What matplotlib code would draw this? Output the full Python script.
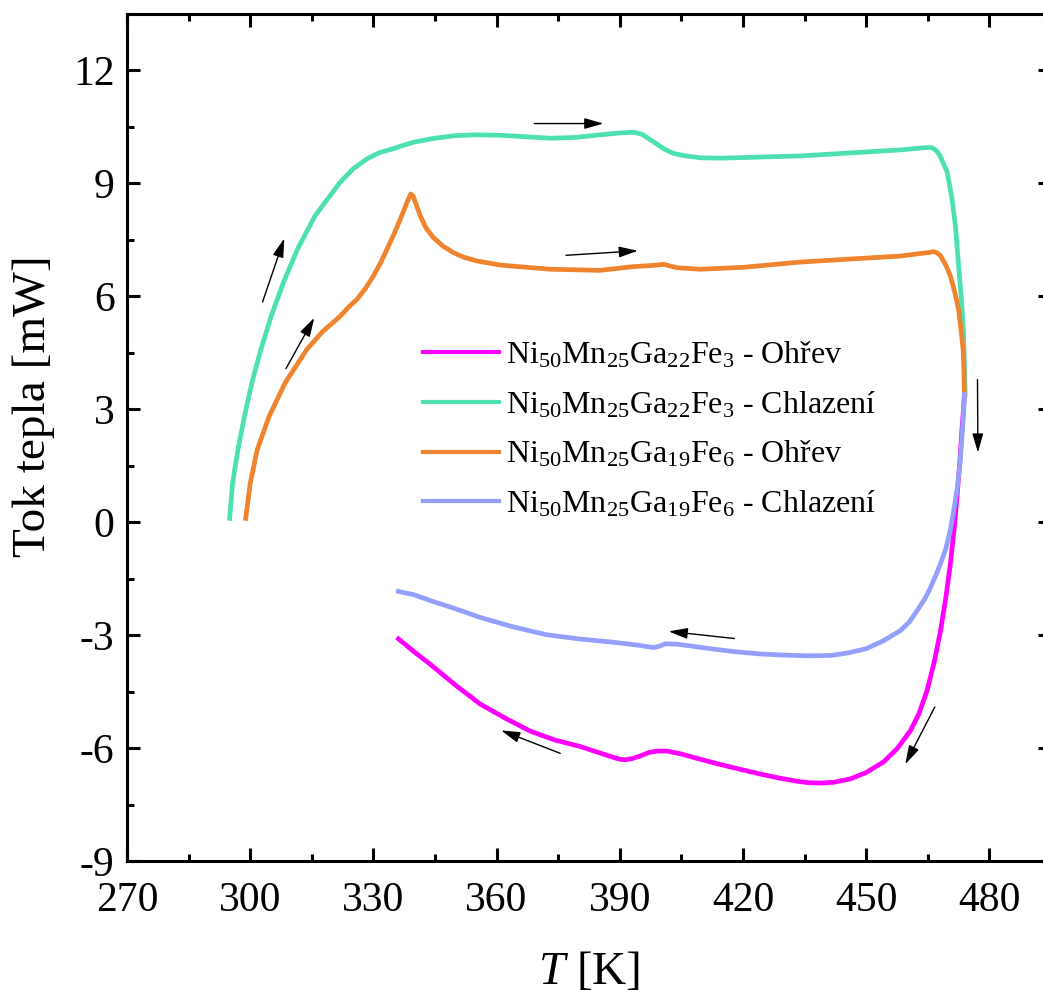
import numpy as np
import matplotlib
matplotlib.use("Agg")
from matplotlib import pyplot as plt
from matplotlib.ticker import MultipleLocator

plt.rcParams['font.family'] = ['Liberation Serif', 'DejaVu Serif']
plt.rcParams['mathtext.fontset'] = 'custom'
plt.rcParams['mathtext.rm'] = 'Liberation Serif'
plt.rcParams['mathtext.it'] = 'Liberation Serif:italic'
plt.rcParams['axes.unicode_minus'] = False

# DSC krivky: teplota [K] a tok tepla [mW]
T_fe3_ohrev = [336.1, 340.0, 343.8, 350.0, 356.0, 362.0, 368.2, 374.0, 380.4, 386.0,
               388.5, 390.1, 391.5, 393.0, 395.0, 397.0, 399.0, 401.5, 404.7, 408.0,
               412.8, 418.0, 424.2, 429.0, 433.0, 436.0, 438.8, 442.0, 446.1, 450.0,
               454.2, 457.5, 460.7, 462.8, 464.8, 466.6, 468.1, 469.4, 470.5, 471.4,
               472.1, 472.8, 473.3, 473.7, 473.9]
Q_fe3_ohrev = [-3.10, -3.45, -3.77, -4.33, -4.83, -5.20, -5.55, -5.78, -5.96, -6.16,
               -6.25, -6.30, -6.31, -6.28, -6.21, -6.12, -6.08, -6.08, -6.15, -6.25,
               -6.39, -6.53, -6.69, -6.80, -6.88, -6.92, -6.93, -6.91, -6.82, -6.65,
               -6.37, -6.02, -5.55, -5.10, -4.48, -3.70, -2.88, -2.00, -1.10, -0.20,
               0.67, 1.60, 2.45, 3.00, 3.39]

T_fe3_chlaz = [295.0, 295.7, 297.0, 298.6, 300.4, 302.6, 305.1, 308.1, 311.5, 315.8,
               321.9, 325.0, 328.4, 331.5, 334.8, 337.5, 340.0, 345.0, 350.0, 355.0,
               360.9, 367.0, 373.0, 379.0, 385.2, 390.0, 393.3, 395.5, 398.0, 400.7,
               403.0, 405.5, 409.6, 414.5, 424.2, 434.0, 446.1, 458.3, 464.4, 466.0,
               467.2, 468.0, 469.7, 470.9, 471.8, 472.5, 473.2, 473.7, 474.1]
Q_fe3_chlaz = [0.10, 1.03, 1.92, 2.81, 3.70, 4.59, 5.47, 6.37, 7.25, 8.14,
               9.03, 9.38, 9.65, 9.82, 9.92, 10.02, 10.10, 10.20, 10.27, 10.29,
               10.28, 10.24, 10.20, 10.22, 10.29, 10.34, 10.36, 10.30, 10.12, 9.92,
               9.80, 9.74, 9.68, 9.67, 9.70, 9.73, 9.81, 9.89, 9.95, 9.95,
               9.86, 9.73, 9.31, 8.59, 7.80, 6.81, 5.90, 5.03, 3.39]

T_fe6_ohrev = [298.9, 300.0, 301.7, 304.6, 308.5, 313.8, 317.5, 321.9, 324.0, 326.0,
               328.0, 330.0, 331.7, 333.3, 335.2, 336.9, 338.2, 339.1, 339.7, 340.2,
               341.4, 342.8, 344.6, 347.0, 349.5, 352.0, 355.2, 360.9, 373.0, 385.2,
               393.3, 398.0, 400.7, 403.9, 409.6, 420.0, 434.0, 446.0, 458.3, 465.6,
               466.4, 467.3, 468.0, 469.3, 470.5, 471.6, 472.5, 473.1, 473.6, 473.8,
               473.9]
Q_fe6_ohrev = [0.10, 1.03, 1.92, 2.81, 3.70, 4.59, 5.05, 5.47, 5.72, 5.92,
               6.20, 6.54, 6.88, 7.25, 7.70, 8.14, 8.50, 8.72, 8.66, 8.50,
               8.14, 7.82, 7.56, 7.33, 7.16, 7.04, 6.94, 6.83, 6.72, 6.69,
               6.79, 6.82, 6.85, 6.76, 6.72, 6.77, 6.91, 6.99, 7.07, 7.17,
               7.19, 7.15, 7.09, 6.85, 6.54, 6.10, 5.65, 5.10, 4.59, 4.00,
               3.39]

T_fe6_chlaz = [336.1, 340.0, 343.8, 350.0, 356.0, 364.0, 372.2, 380.0, 388.5, 394.0,
               397.0, 398.2, 399.5, 401.1, 404.0, 408.0, 412.8, 418.0, 424.2, 430.0,
               436.0, 441.3, 444.0, 446.1, 450.0, 454.2, 458.3, 460.5, 462.4, 464.2,
               465.6, 467.0, 468.1, 469.4, 470.5, 471.3, 472.3, 472.9, 473.4, 473.7,
               473.9]
Q_fe6_chlaz = [-1.84, -1.93, -2.08, -2.30, -2.53, -2.78, -2.99, -3.10, -3.19, -3.26,
               -3.31, -3.33, -3.30, -3.23, -3.24, -3.30, -3.37, -3.44, -3.50, -3.53,
               -3.55, -3.54, -3.50, -3.46, -3.36, -3.15, -2.88, -2.65, -2.35, -2.05,
               -1.75, -1.40, -1.10, -0.70, -0.20, 0.30, 1.00, 1.65, 2.40, 2.90,
               3.39]

labels = [r'Ni$_{50}$Mn$_{25}$Ga$_{22}$Fe$_{3}$ - Ohřev',
          r'Ni$_{50}$Mn$_{25}$Ga$_{22}$Fe$_{3}$ - Chlazení',
          r'Ni$_{50}$Mn$_{25}$Ga$_{19}$Fe$_{6}$ - Ohřev',
          r'Ni$_{50}$Mn$_{25}$Ga$_{19}$Fe$_{6}$ - Chlazení']
colors = ['#ff00ff', '#4de0b3', '#f0842e', '#94a0fc']

# sipky smeru mereni: (odkud, kam)
arrows = [((303.0, 5.85), (308.3, 7.54)),
          ((308.7, 4.08), (315.6, 5.43)),
          ((369.2, 10.59), (386.0, 10.59)),
          ((376.9, 7.09), (394.4, 7.21)),
          ((477.1, 3.79), (477.2, 1.85)),
          ((466.7, -4.91), (459.5, -6.43)),
          ((417.9, -3.09), (401.9, -2.90)),
          ((375.5, -6.14), (361.1, -5.53))]

fig = plt.figure(figsize=(10.43, 9.9), dpi=100)
ax = fig.add_axes([127 / 1043, 129 / 990, 924 / 1043, 847 / 990])

curves = [(T_fe3_ohrev, Q_fe3_ohrev), (T_fe3_chlaz, Q_fe3_chlaz),
          (T_fe6_ohrev, Q_fe6_ohrev), (T_fe6_chlaz, Q_fe6_chlaz)]
for (t, q), lab, c in zip(curves, labels, colors):
    ax.plot(t, q, color=c, lw=3.4, label=lab, solid_joinstyle='round')

for tail, tip in arrows:
    ax.annotate('', xy=tip, xytext=tail,
                arrowprops=dict(arrowstyle='-|>,head_length=1.15,head_width=0.33',
                                color='k', lw=1.0, mutation_scale=10,
                                shrinkA=0, shrinkB=0))

ax.set_xlim(270, 495)
ax.set_ylim(-9, 13.5)
ax.xaxis.set_major_locator(MultipleLocator(30))
ax.xaxis.set_minor_locator(MultipleLocator(15))
ax.yaxis.set_major_locator(MultipleLocator(3))
ax.yaxis.set_minor_locator(MultipleLocator(1.5))
ax.tick_params(which='both', direction='in', top=True, right=True, width=2.2)
ax.tick_params(which='major', length=9.5, labelsize=30)
ax.tick_params(axis='x', which='major', pad=15)
ax.tick_params(axis='y', which='major', pad=9)
ax.tick_params(which='minor', length=5)
for s in ax.spines.values():
    s.set_linewidth(2.2)

ax.set_xlabel(r'$\mathit{T}$ [K]', fontsize=34, labelpad=22)
ax.set_ylabel('Tok tepla [mW]', fontsize=34)
ax.yaxis.set_label_coords(-0.078, 0.537)

leg = ax.legend(loc='upper left', bbox_to_anchor=(0.320, 0.615), frameon=False,
                fontsize=23, handlelength=2.4, handletextpad=0.2,
                labelspacing=0.6, borderpad=0, borderaxespad=0)
for h in leg.get_lines():
    h.set_linewidth(3.0)

fig.savefig('out.png', dpi=100)
